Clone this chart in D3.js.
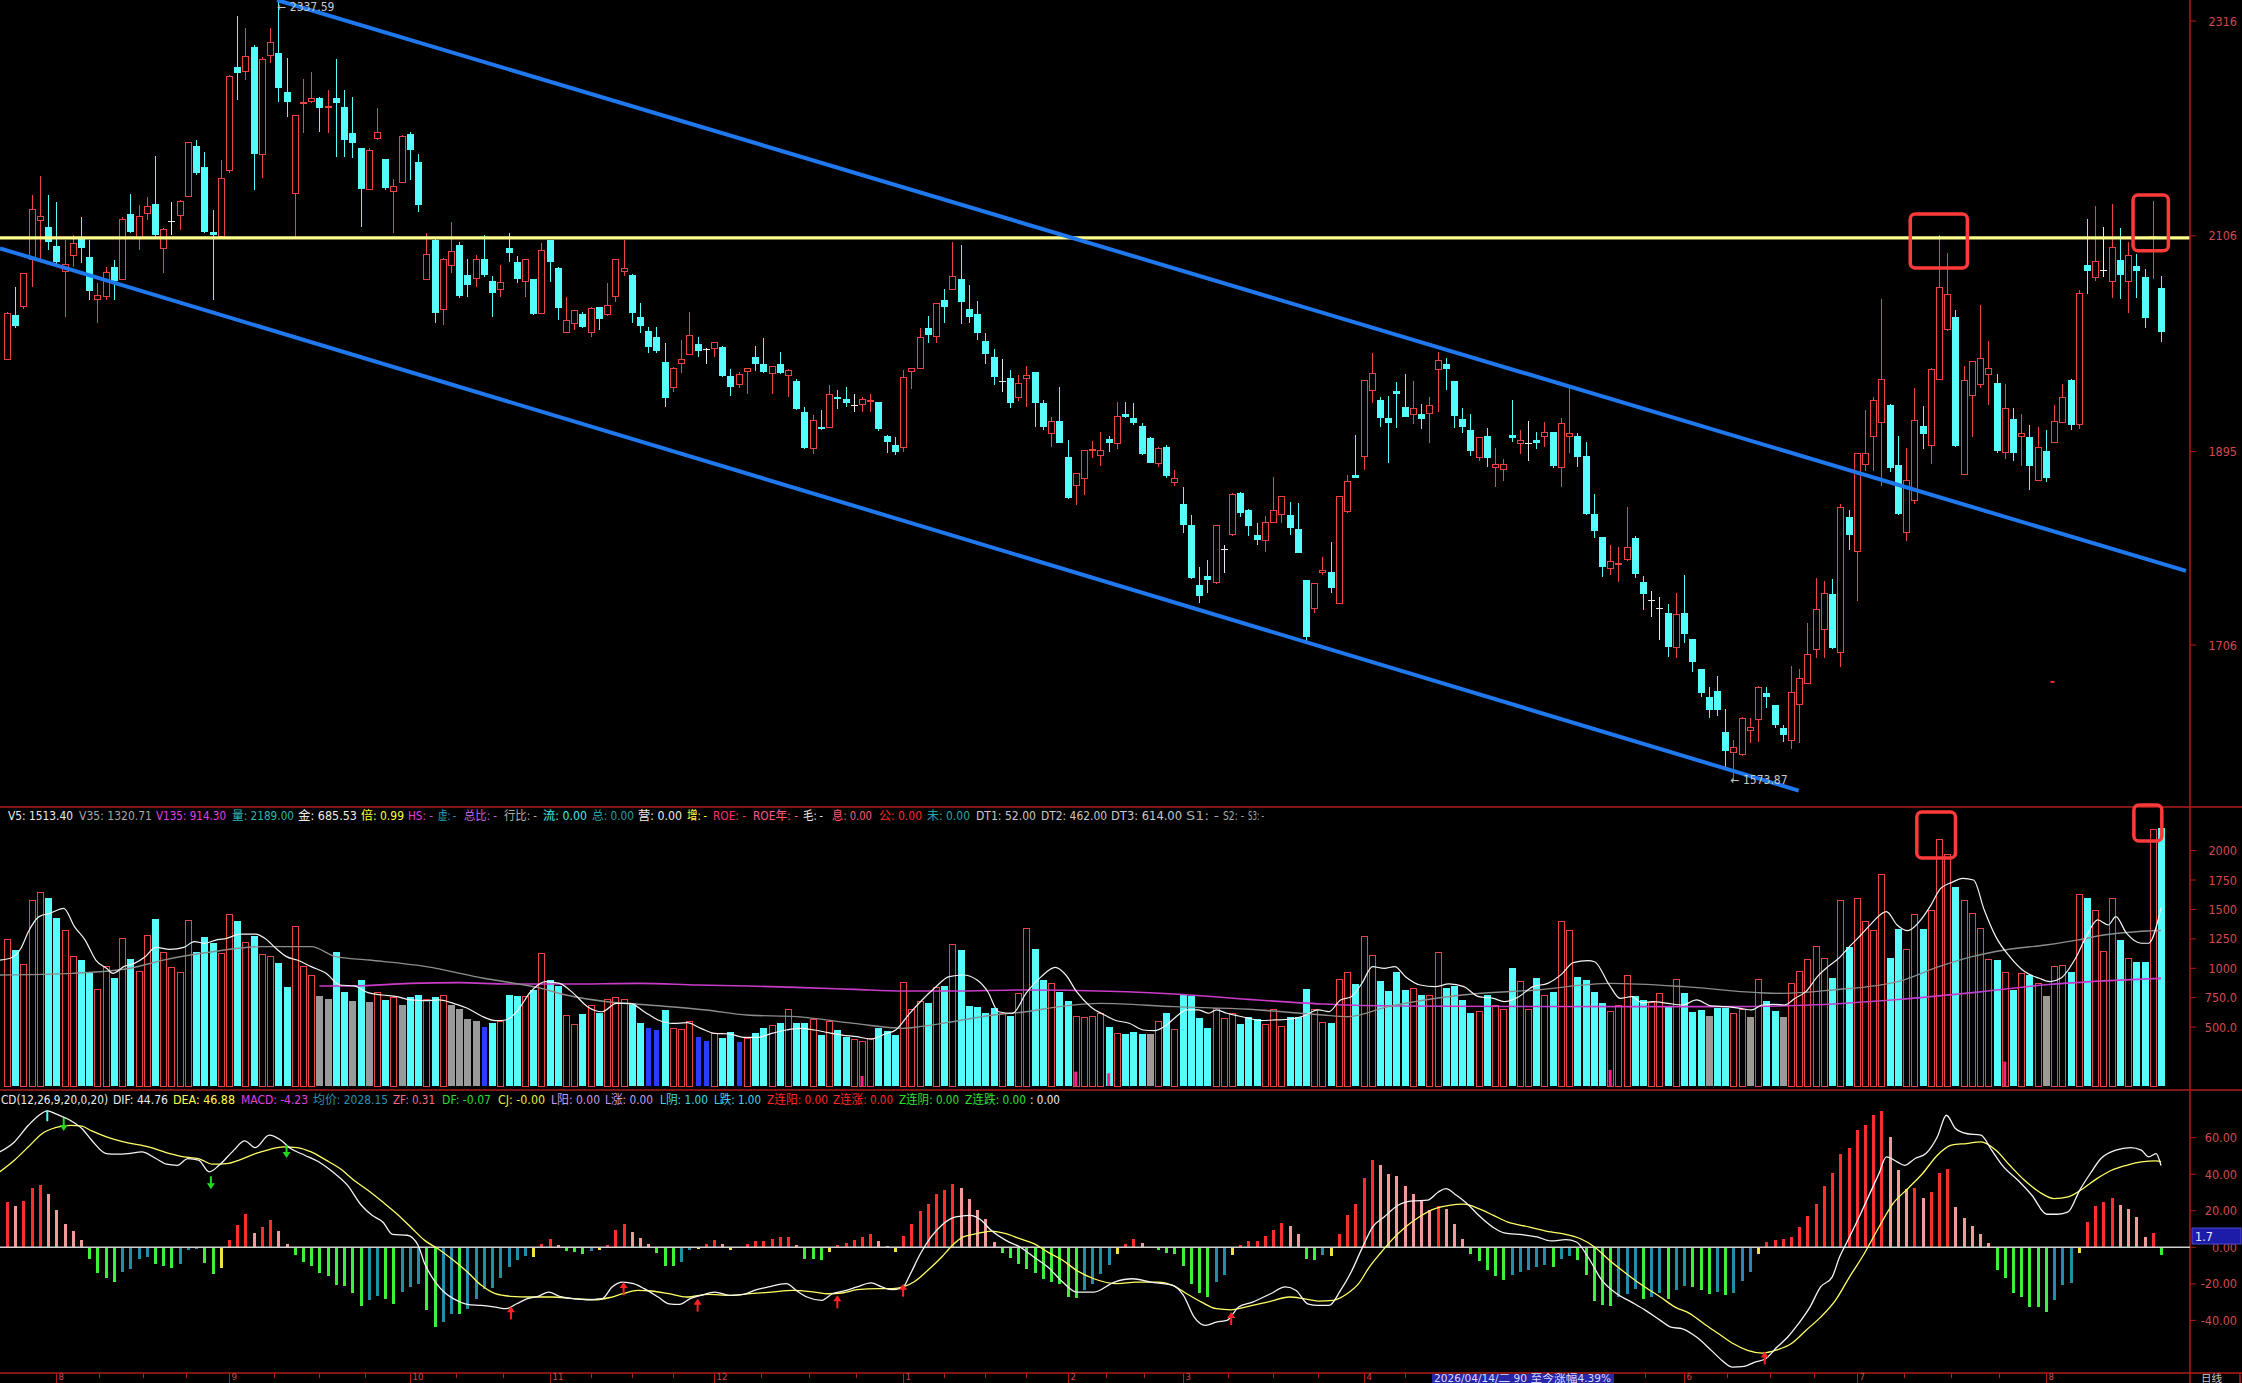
<!DOCTYPE html>
<html><head><meta charset="utf-8">
<script src="https://cdn.jsdelivr.net/npm/d3@7"></script>
<style>
html,body{margin:0;padding:0;background:#000;overflow:hidden}
svg{display:block}
text{font-family:"DejaVu Sans Condensed","Liberation Sans Narrow","Noto Sans CJK SC",sans-serif}
</style></head><body>
<svg id="c" width="2242" height="1383"></svg>
<script>
// ---------------- DATA ----------------
const opens=[1985.3,2028.6,2036.7,2082.4,2120.8,2114.3,2096.0,2071.0,2086.6,2102.6,
2085.6,2043.3,2046.5,2075.8,2063.5,2127.0,2103.5,2128.0,2137.1,2093.8,
2119.8,2126.3,2144.3,2193.8,2172.9,2109.4,2105.2,2170.3,2270.7,2267.1,
2290.9,2185.6,2282.7,2285.0,2246.2,2147.5,2235.2,2237.1,2240.4,2231.3,
2240.4,2232.2,2206.2,2191.5,2151.4,2201.3,2180.8,2149.8,2158.0,2205.5,
2178.5,2063.5,2101.9,2034.1,2076.5,2097.0,2067.7,2064.4,2083.0,2061.8,
2053.7,2093.8,2080.7,2061.8,2063.5,2030.2,2101.9,2074.2,2011.6,2020.4,
2029.6,2011.6,2036.1,2028.6,2046.5,2071.0,2067.7,2026.3,2013.0,2006.8,
1983.0,1957.9,1981.3,1990.1,2000.2,1994.4,1996.0,1997.6,1969.0,1960.2,
1973.2,1987.2,1980.7,1971.6,1980.7,1969.3,1964.1,1934.1,1898.3,1918.8,
1918.5,1948.1,1946.5,1940.0,1941.3,1944.2,1943.2,1910.3,1901.5,1899.2,
1973.2,1976.5,2015.6,2007.4,2043.3,2053.7,2063.5,2034.1,2029.3,2003.2,
1987.2,1963.4,1966.7,1948.1,1966.7,1972.6,1942.3,1913.0,1925.3,1889.5,
1862.4,1868.9,1895.7,1891.1,1907.1,1903.2,1931.5,1927.6,1920.1,1908.1,
1883.6,1899.9,1864.7,1843.9,1823.3,1764.7,1773.5,1767.0,1799.6,1813.6,
1855.0,1838.0,1813.6,1808.0,1825.6,1833.8,1833.1,1819.1,1769.6,1741.9,
1776.7,1777.7,1746.8,1836.4,1871.9,1890.1,1954.6,1945.5,1927.6,1954.3,
1938.4,1930.9,1931.8,1932.5,1975.5,1980.7,1964.1,1927.0,1916.2,1889.5,
1910.3,1879.7,1877.8,1911.3,1903.2,1902.5,1906.4,1909.7,1914.6,1879.7,
1909.7,1910.3,1890.8,1834.1,1811.9,1781.0,1785.3,1789.1,1810.3,1767.9,
1749.4,1741.9,1737.6,1703.8,1737.6,1711.6,1682.3,1654.9,1661.1,1621.3,
1600.8,1598.5,1622.0,1632.7,1658.8,1647.4,1624.6,1612.7,1648.2,1668.1,
1701.3,1721.2,1756.0,1698.8,1830.8,1797.2,1882.5,1910.3,1923.7,1941.1,
1882.1,1816.3,1847.1,1920.1,1900.6,1965.7,2014.1,2026.8,1872.4,1950.1,
1961.0,1970.7,1962.0,1894.1,1926.6,1910.3,1909.2,1866.9,1895.9,1903.8,
1923.7,1964.6,1921.2,2077.4,2065.1,2072.3,2061.1,2082.8,2061.1,2076.7,
2065.8,2103.8,2055.0];
const highs=[2031.8,2055.6,2069.3,2145.9,2164.5,2145.9,2139.4,2101.9,2106.8,2124.1,
2101.9,2059.5,2075.8,2082.4,2124.7,2146.9,2136.1,2144.3,2184.0,2113.3,
2139.4,2141.0,2197.0,2199.7,2188.2,2131.2,2180.1,2263.2,2320.9,2308.8,
2292.5,2281.1,2308.8,2337.59,2279.5,2224.1,2259.3,2266.4,2242.0,2248.5,
2278.5,2248.5,2241.4,2191.5,2191.5,2230.6,2180.8,2161.2,2204.5,2207.8,
2186.0,2108.4,2103.5,2084.0,2119.8,2100.3,2083.0,2087.2,2106.8,2066.7,
2077.5,2109.1,2086.3,2083.0,2063.5,2098.6,2101.9,2075.8,2046.5,2033.5,
2031.8,2036.7,2036.7,2060.2,2083.0,2101.9,2068.7,2040.0,2017.2,2016.5,
2001.5,1978.1,2004.2,2031.2,2007.4,1996.0,2002.5,1998.3,1975.5,1973.2,
1977.1,1998.6,2006.4,1979.1,1992.1,1975.5,1965.7,1938.3,1930.8,1935.7,
1960.2,1955.3,1957.9,1951.4,1948.1,1951.4,1943.9,1911.3,1909.7,1974.8,
1976.5,2015.6,2027.6,2040.7,2053.7,2100.3,2097.0,2057.9,2042.3,2010.7,
1995.0,1985.3,1974.8,1969.9,1978.8,1972.6,1945.5,1929.2,1957.9,1906.4,
1873.8,1896.7,1905.8,1914.6,1910.7,1943.9,1943.3,1942.9,1922.7,1909.7,
1899.9,1901.5,1877.1,1860.8,1833.1,1782.0,1789.1,1823.3,1803.8,1854.3,
1856.0,1838.6,1825.6,1832.1,1869.9,1851.1,1846.1,1844.5,1769.6,1766.3,
1792.4,1807.0,1851.1,1872.2,1911.3,1964.1,1991.1,1948.8,1949.5,1963.4,
1970.9,1964.4,1941.6,1948.8,1992.8,1986.3,1964.1,1937.4,1931.8,1909.7,
1917.8,1898.3,1887.5,1945.5,1916.2,1925.3,1914.6,1924.4,1914.6,1927.6,
1957.0,1912.9,1904.8,1853.6,1811.9,1803.8,1802.2,1841.3,1812.6,1773.5,
1759.2,1753.3,1746.1,1756.5,1774.5,1711.6,1682.3,1665.3,1675.7,1643.1,
1613.2,1635.3,1634.4,1666.0,1664.7,1647.4,1627.8,1685.1,1682.5,1727.7,
1771.1,1768.2,1770.4,1844.2,1838.0,1893.3,1935.6,1948.3,2044.1,1941.8,
1910.3,1898.4,1957.3,1939.3,1977.2,2106.7,2089.3,2033.3,1979.0,1982.7,
2038.7,2003.3,1970.7,1961.0,1937.5,1932.0,1921.2,1919.4,1916.5,1941.1,
1961.0,1966.4,2053.2,2122.6,2135.6,2114.6,2137.1,2113.9,2100.2,2088.6,
2073.1,2140.0,2066.9];
const lows=[1984.6,2015.6,2034.1,2056.3,2082.4,2092.1,2077.5,2027.0,2075.8,2079.1,
2043.3,2020.4,2043.3,2043.3,2062.8,2108.4,2092.1,2121.5,2105.2,2069.3,
2106.8,2111.7,2144.3,2165.4,2108.4,2043.3,2103.5,2167.7,2238.8,2258.3,
2150.8,2162.2,2274.6,2237.1,2222.5,2105.2,2206.2,2235.5,2207.8,2206.8,
2183.4,2182.7,2181.7,2115.0,2150.8,2199.7,2150.8,2109.1,2157.3,2160.6,
2129.6,2062.8,2020.4,2018.8,2070.0,2044.9,2046.5,2055.6,2066.1,2026.3,
2046.5,2080.7,2059.5,2046.5,2028.6,2029.6,2061.2,2023.7,2011.3,2013.9,
2015.6,2007.4,2013.9,2027.9,2041.6,2066.7,2020.4,2010.7,1991.1,1991.1,
1939.0,1953.6,1971.6,1989.5,1987.2,1980.7,1987.9,1968.3,1949.7,1956.9,
1951.0,1974.2,1972.2,1951.0,1970.6,1948.8,1935.7,1897.3,1892.7,1916.2,
1917.8,1936.4,1938.3,1934.1,1934.1,1934.1,1915.5,1893.4,1891.7,1895.0,
1956.0,1975.5,2000.9,2000.9,2020.5,2053.0,2019.5,2020.5,2004.2,1980.7,
1960.2,1953.7,1937.4,1944.9,1938.4,1919.5,1916.2,1899.3,1903.2,1848.4,
1842.9,1852.7,1888.5,1881.0,1895.0,1897.3,1927.6,1921.1,1891.8,1883.6,
1880.4,1868.9,1861.5,1815.8,1770.2,1747.4,1756.6,1765.7,1776.1,1812.6,
1831.5,1812.6,1803.8,1797.3,1825.0,1825.6,1813.6,1795.7,1707.7,1737.6,
1774.5,1757.2,1746.1,1835.4,1869.0,1877.1,1942.9,1919.5,1884.3,1917.8,
1928.6,1922.1,1917.2,1903.2,1934.1,1955.3,1917.8,1913.6,1890.8,1886.2,
1880.4,1860.8,1866.4,1904.8,1892.7,1886.2,1897.3,1899.9,1878.7,1860.8,
1894.0,1879.7,1833.1,1810.3,1772.2,1774.5,1767.9,1788.5,1771.2,1740.2,
1733.1,1710.9,1694.0,1693.0,1708.3,1680.0,1655.5,1634.4,1636.6,1584.5,
1573.87,1597.5,1610.6,1611.6,1644.1,1624.6,1611.6,1604.1,1610.2,1668.1,
1693.4,1693.4,1702.4,1684.4,1799.3,1748.7,1876.0,1876.0,1861.5,1875.3,
1833.3,1808.0,1843.4,1897.7,1883.2,1965.7,2013.4,1899.5,1872.4,1909.2,
1957.3,1941.1,1893.3,1887.6,1886.1,1881.4,1857.2,1866.9,1865.1,1903.1,
1923.0,1915.8,1917.6,2048.8,2062.2,2065.8,2045.2,2044.1,2030.7,2045.2,
2016.3,2064.0,2002.5];
const closes=[2030.2,2017.8,2069.3,2131.9,2124.7,2100.3,2080.7,2078.1,2098.6,2094.4,
2052.4,2048.1,2070.0,2061.8,2121.5,2110.1,2124.7,2134.5,2106.8,2112.3,
2119.8,2139.4,2197.0,2167.7,2110.1,2106.8,2162.2,2261.6,2264.8,2281.1,
2185.6,2277.9,2294.8,2250.2,2236.5,2223.4,2236.8,2240.4,2230.6,2232.2,
2236.1,2199.7,2197.0,2151.4,2189.2,2207.2,2152.4,2154.7,2202.9,2189.9,
2136.1,2087.9,2030.2,2083.0,2090.5,2047.2,2057.9,2083.0,2067.7,2050.4,
2060.2,2089.5,2063.8,2083.0,2029.2,2091.5,2080.7,2035.1,2023.0,2032.8,
2017.2,2035.1,2024.4,2037.7,2082.4,2074.2,2030.9,2018.2,1997.6,1993.7,
1947.1,1976.5,1985.3,2008.1,1993.7,1994.4,2001.5,1969.0,1957.9,1970.6,
1976.5,1980.4,1973.2,1978.1,1971.6,1974.8,1936.4,1898.3,1925.9,1916.8,
1950.4,1946.2,1942.2,1940.0,1946.2,1944.9,1916.8,1904.1,1895.0,1967.7,
1976.5,2006.8,2009.1,2039.4,2036.8,2066.7,2041.6,2026.3,2010.7,1990.2,
1967.7,1963.4,1942.9,1961.8,1969.0,1942.9,1919.5,1924.4,1903.8,1850.1,
1873.8,1895.7,1897.6,1896.0,1903.8,1929.2,1928.6,1922.7,1892.7,1884.3,
1898.3,1871.2,1868.9,1823.3,1771.2,1754.3,1769.6,1822.4,1799.6,1853.3,
1835.4,1822.4,1808.7,1825.6,1837.0,1851.1,1820.1,1796.3,1714.2,1766.3,
1779.3,1761.4,1851.1,1865.7,1869.0,1964.1,1971.6,1928.3,1922.7,1951.1,
1929.2,1937.4,1926.9,1940.0,1984.6,1975.5,1929.9,1919.5,1896.0,1909.0,
1889.1,1882.6,1882.0,1908.0,1906.4,1902.5,1903.2,1914.0,1881.0,1922.7,
1913.0,1889.5,1833.8,1817.8,1782.0,1788.1,1785.5,1801.5,1775.4,1755.6,
1749.4,1741.9,1703.8,1735.4,1716.8,1689.7,1659.4,1642.5,1642.5,1602.8,
1606.0,1634.4,1625.6,1664.7,1655.5,1627.8,1618.1,1659.8,1673.5,1697.0,
1740.4,1756.7,1703.5,1840.5,1813.4,1893.3,1893.3,1945.4,1965.7,1878.9,
1834.4,1866.9,1925.9,1912.1,1975.4,2055.0,2048.8,1900.6,1964.6,1982.7,
1986.3,1976.5,1895.9,1937.5,1893.3,1912.9,1881.4,1899.5,1868.8,1924.8,
1947.6,1921.2,2049.6,2072.0,2081.0,2072.3,2094.8,2067.6,2086.4,2072.0,
2026.0,2105.6,2011.6];
const volumes=[1246,1155,1034,1580,1645,1597,1430,1322,1104,1070,
957,816,1019,917,1254,1079,977,1280,1419,1138,
1008,966,1410,1138,1266,1215,1124,1461,1402,1215,
1274,1119,1102,1045,841,1359,1019,940,765,736,
1136,799,722,900,714,796,731,756,688,759,
773,731,759,770,685,654,566,555,504,538,
549,773,765,759,816,1127,900,850,595,524,
612,688,617,731,748,736,708,538,493,476,
646,490,481,552,419,382,447,411,456,377,
405,447,490,512,532,646,532,538,561,433,
546,476,419,391,377,405,490,470,433,881,
651,716,702,835,850,1204,1155,680,674,623,
660,617,597,787,1334,1164,900,872,796,722,
589,583,589,620,504,442,442,462,442,442,
552,618,476,773,765,575,490,660,575,618,
527,589,567,524,652,504,589,584,821,652,
541,533,901,966,867,1274,1105,892,807,971,
816,830,773,765,1136,830,850,731,618,632,
773,688,646,1000,887,646,915,773,802,1396,
1325,929,901,802,702,632,688,943,765,731,
708,787,674,901,793,632,646,595,660,660,
618,654,589,906,722,637,589,867,971,1071,
1184,1085,920,1580,1184,1595,1396,1325,1793,1085,
1334,1156,1453,1334,1487,2096,1963,1688,1572,1467,
1340,1071,1071,963,816,957,943,872,765,1014,
1028,966,1628,1595,1487,1141,1595,1241,1085,1056,
1056,2181,2189];
// volume bars shown in grey / blue in the reference
const volGreyIdx=[38,39,42,44,48,54,55,56,57,139,207,212,216,248];
const volBlueIdx=[58,78,79,84,85,89];
// small magenta bars at the bottom of the volume panel
const volMarkIdx=[104,130,134,195,243];
const volMarkVal=[85,122,108,136,207];
// volume moving averages, [bar index, value]
const v5Line=[[-0.85,1070],[0.4,1085],[1.7,1170],[2.6,1311],[3.9,1439],[5.2,1467],[6.9,1509],[8.2,1354],[9.5,1240],[10.8,1070],[12.1,1000],[12.9,957],[14.2,1014],[15.5,1042],[16.8,1099],[18.1,1178],[19.8,1161],[21.5,1178],[22.8,1226],[24.1,1212],[25.4,1240],[26.7,1254],[28.4,1291],[30.2,1291],[31.4,1254],[32.7,1170],[34.0,1099],[35.3,1070],[37.0,1014],[38.8,957],[40.5,858],[42.2,850],[43.9,793],[45.7,773],[47.4,759],[49.1,731],[50.8,725],[52.5,731],[54.3,702],[56.0,660],[57.7,595],[59.4,555],[60.7,561],[62.0,631],[63.7,801],[65.5,886],[67.2,872],[68.9,787],[70.6,674],[72.4,631],[74.1,702],[75.8,702],[77.5,631],[79.2,561],[81.0,532],[82.7,538],[84.4,490],[86.1,447],[87.9,442],[89.6,413],[91.3,413],[93.0,447],[94.8,476],[96.5,490],[98.2,476],[99.9,453],[101.6,433],[103.4,419],[105.1,399],[106.8,442],[108.1,476],[109.8,617],[111.1,716],[112.8,830],[114.6,929],[116.3,943],[118.0,900],[119.3,801],[120.6,631],[122.3,617],[124.0,793],[125.8,929],[127.5,1008],[128.8,943],[130.1,801],[131.8,674],[133.5,603],[134.7,561],[136.5,533],[138.2,476],[139.6,470],[140.9,510],[142.2,589],[143.5,646],[144.9,646],[146.2,618],[147.1,646],[148.4,618],[149.8,595],[151.1,575],[152.4,555],[154.2,561],[156.0,567],[157.7,595],[159.5,646],[160.8,632],[162.2,731],[163.5,759],[164.8,872],[166.1,1014],[167.5,1000],[168.8,1014],[170.1,929],[171.9,858],[173.7,844],[175.4,867],[177.2,844],[179.0,759],[180.8,745],[182.1,717],[183.9,759],[185.6,844],[187.4,872],[189.2,957],[190.5,1048],[192.3,1065],[193.1,1056],[194.9,858],[196.2,745],[197.6,759],[198.9,708],[200.2,717],[202.0,702],[203.8,688],[205.5,731],[207.3,680],[209.1,674],[210.8,660],[212.2,646],[213.5,688],[214.9,694],[216.2,688],[217.5,745],[218.8,802],[220.2,929],[221.5,1014],[222.8,1085],[224.1,1184],[225.5,1283],[226.8,1382],[228.6,1481],[229.9,1368],[231.2,1320],[232.6,1396],[233.9,1524],[235.2,1679],[236.5,1728],[237.9,1764],[239.2,1750],[240.5,1495],[241.9,1269],[243.6,1099],[245.4,972],[247.2,915],[248.5,887],[249.8,915],[251.6,1085],[252.9,1269],[254.3,1411],[255.6,1368],[256.5,1439],[257.8,1298],[259.6,1213],[260.5,1213],[262,1513.4]];
const v35Line=[[-0.85,943],[8,957],[15,1000],[19,1070],[25,1141],[31,1184],[37,1184],[40,1099],[44,1070],[51,1014],[58,915],[65,830],[68,773],[73,716],[78,688],[85,646],[90,603],[96,589],[103,532],[109,490],[111,504],[115,546],[120,603],[124,631],[128,674],[133,702],[142,674],[151,652],[160,603],[163,589],[168,674],[177,773],[186,816],[195,872],[204,844],[213,793],[216,787],[222,816],[230,887],[235,1014],[239,1099],[243,1156],[248,1198],[252,1241],[255,1283],[259,1311],[262,1320.71]];
const v135Line=[[38,850],[42,850],[49,872],[55,878],[61,866],[68,866],[77,872],[84,858],[90,850],[96,838],[103,821],[109,807],[115,807],[124,816],[134,805],[142,782],[151,736],[160,697],[163,688],[170,680],[185,676],[200,674],[212,676],[220,690],[230,735],[240,800],[248,860],[262,914.3]];
// MACD histogram (one value per bar)
const macd=[24.8,22.5,25.2,32.7,34.0,29.0,20.3,12.6,8.9,3.8,
-6.2,-14.1,-16.6,-19.0,-13.5,-11.7,-6.2,-5.3,-9.3,-10.4,
-11.1,-9.3,-1.3,-0.9,-8.6,-14.4,-11.1,3.8,12.1,18.1,
7.9,11.1,14.8,8.9,2.0,-4.4,-8.0,-10.4,-14.1,-15.9,
-20.8,-21.4,-25.0,-32.3,-29.0,-26.8,-28.1,-31.2,-24.5,-21.7,
-19.9,-34.5,-43.7,-40.9,-36.7,-36.7,-33.6,-28.1,-22.6,-22.1,
-16.6,-10.8,-6.8,-4.9,-5.3,1.6,4.7,1.1,-2.0,-2.6,
-3.8,-2.0,-1.3,1.1,9.3,13.0,8.4,5.3,1.6,-3.1,
-10.4,-10.4,-8.0,-1.6,-0.7,1.6,3.8,1.6,-1.3,0.2,
1.6,3.5,3.5,4.7,5.7,5.7,1.1,-6.2,-6.2,-6.8,
-2.6,1.1,2.4,3.8,5.7,7.1,3.5,0.5,-2.6,6.0,
13.0,19.9,23.9,29.0,31.6,34.9,32.7,26.7,20.6,15.7,
2.9,-3.1,-5.7,-8.9,-11.7,-14.1,-17.2,-19.0,-20.3,-27.2,
-27.6,-23.2,-19.9,-14.6,-9.9,-3.5,1.6,4.4,2.4,0.3,
-1.5,-3.1,-3.8,-10.4,-20.3,-25.0,-27.2,-19.0,-15.3,-4.4,
1.1,3.5,3.5,6.0,9.3,13.5,11.5,7.5,-6.2,-6.8,
-4.4,-4.9,7.5,17.5,23.6,38.2,47.7,44.9,40.4,38.9,
33.4,29.4,25.8,20.3,22.5,21.2,12.6,4.7,-3.8,-7.5,
-12.2,-15.9,-18.1,-15.3,-13.5,-12.2,-10.8,-9.9,-10.8,-6.2,
-4.9,-7.1,-15.3,-29.4,-31.8,-32.3,-27.2,-25.8,-22.6,-28.1,
-27.2,-25.0,-28.1,-23.6,-21.4,-21.7,-23.6,-25.8,-24.5,-26.3,
-25.0,-18.4,-13.5,-3.5,2.9,4.2,4.6,5.7,11.1,17.0,
23.9,33.6,40.7,51.3,54.1,64.1,67.2,72.3,74.7,60.5,
42.2,32.1,32.7,27.2,30.3,40.7,42.6,22.1,16.1,11.5,
7.5,2.4,-12.6,-16.6,-25.0,-27.2,-32.7,-32.7,-35.4,-29.0,
-20.8,-19.5,-3.0,13.9,22.5,24.8,27.2,23.0,21.2,16.6,
5.7,7.9,-4.23];
// DIF / DEA lines, [bar index, value]
const difLine=[[-0.9,52.2],[0.9,57.7],[2.6,66.8],[3.9,72.3],[4.9,74.7],[6.0,72.9],[7.8,69.2],[9.1,65.0],[10.3,58.6],[12.1,51.3],[13.4,51.0],[14.7,51.3],[16.4,52.2],[18.1,48.6],[19.4,45.5],[20.7,44.9],[22.0,48.6],[23.3,47.7],[24.6,41.3],[25.8,44.9],[27.6,53.2],[28.9,58.3],[30.2,54.6],[31.9,61.4],[33.2,59.0],[34.5,54.1],[36.2,50.4],[37.9,46.8],[39.6,41.3],[41.4,34.0],[43.1,23.0],[44.4,17.5],[45.7,13.9],[46.9,7.1],[48.7,6.6],[50.0,1.1],[50.8,-8.9],[52.1,-19.0],[53.4,-25.4],[54.7,-29.0],[56.0,-31.2],[57.7,-31.8],[59.4,-32.7],[60.7,-33.6],[62.0,-30.9],[63.3,-28.1],[64.6,-26.8],[65.9,-24.5],[67.2,-26.8],[68.9,-28.1],[70.6,-28.7],[72.4,-28.1],[73.6,-21.7],[74.9,-19.0],[76.2,-19.9],[77.5,-22.6],[79.2,-27.2],[80.5,-30.9],[81.8,-31.2],[83.1,-28.1],[84.4,-26.3],[86.1,-24.5],[87.9,-26.3],[89.6,-25.8],[90.9,-23.6],[92.6,-21.7],[94.8,-19.9],[96.0,-23.6],[97.3,-27.2],[99.1,-29.0],[100.4,-25.4],[102.1,-23.6],[103.4,-21.7],[105.1,-19.5],[106.4,-21.7],[107.7,-23.2],[109.0,-21.7],[109.8,-15.3],[111.1,-3.5],[112.4,5.7],[113.7,12.1],[115.4,16.6],[117.1,17.5],[118.4,15.2],[119.7,9.3],[121.5,3.8],[123.2,0.2],[124.9,-5.3],[126.6,-10.8],[128.4,-19.0],[130.1,-24.5],[132.2,-24.5],[134.7,-19.0],[136.9,-17.2],[139.1,-19.0],[141.8,-20.8],[143.1,-26.3],[144.4,-38.2],[145.8,-42.7],[147.1,-40.9],[148.4,-40.0],[149.8,-32.7],[151.5,-30.0],[153.7,-25.4],[155.5,-21.7],[156.8,-23.6],[158.2,-30.9],[159.5,-31.8],[160.8,-31.8],[162.2,-23.6],[163.5,-13.5],[164.8,-0.7],[166.1,11.1],[167.5,16.6],[169.2,23.0],[171.0,25.4],[172.8,25.8],[174.1,30.3],[175.0,32.1],[176.3,28.5],[177.6,23.9],[179.0,17.5],[180.8,10.8],[182.1,7.9],[184.3,6.9],[186.1,5.7],[187.8,3.5],[189.6,4.2],[190.9,2.9],[192.3,-5.3],[194.0,-18.1],[195.8,-25.4],[197.6,-30.0],[199.3,-34.5],[201.1,-40.0],[202.4,-43.7],[203.8,-44.6],[205.5,-49.1],[207.3,-56.4],[208.6,-61.9],[209.9,-65.6],[211.3,-65.2],[212.6,-62.8],[213.9,-61.0],[215.3,-54.6],[216.6,-49.1],[217.9,-41.8],[219.3,-32.7],[220.6,-21.7],[222.0,-16.3],[222.9,-5.3],[223.7,2.0],[225.1,14.8],[226.4,27.6],[227.7,40.4],[228.6,49.5],[229.9,46.8],[230.8,44.9],[232.1,48.6],[233.4,51.3],[234.8,60.5],[235.9,72.3],[237.0,65.0],[238.3,62.3],[240.1,61.4],[241.4,53.2],[242.7,44.9],[244.6,36.7],[246.3,28.5],[248.1,18.1],[249.4,18.1],[250.7,19.4],[252.1,31.2],[253.4,40.4],[254.7,48.6],[256.5,53.2],[258.3,54.6],[259.6,53.2],[260.5,49.5],[261.4,51.3],[262,44.76]];
const deaLine=[[-0.9,41.3],[0.9,47.7],[2.6,55.0],[4.3,62.3],[6.0,65.6],[7.8,66.8],[9.1,66.3],[10.3,63.7],[12.1,60.5],[14.7,57.2],[17.2,55.0],[19.8,51.3],[21.5,49.5],[23.3,48.6],[25.0,45.5],[26.7,45.8],[28.4,48.0],[30.2,51.3],[31.9,53.5],[33.6,55.0],[35.3,54.6],[37.0,52.2],[38.8,47.7],[40.5,43.1],[42.2,36.7],[43.9,31.2],[45.7,24.8],[47.4,18.4],[49.1,11.1],[50.8,3.8],[52.6,-1.3],[54.3,-7.1],[56.0,-13.5],[57.7,-20.8],[59.4,-25.4],[61.2,-26.8],[63.7,-27.2],[66.3,-27.2],[68.9,-28.1],[71.5,-28.7],[73.2,-27.6],[74.9,-25.4],[76.7,-23.6],[78.4,-23.9],[80.5,-25.4],[82.7,-27.2],[85.3,-25.8],[87.9,-26.3],[90.4,-25.4],[93.0,-24.5],[95.6,-23.6],[98.2,-24.5],[99.9,-25.4],[101.6,-25.0],[103.4,-23.2],[106.0,-22.6],[107.7,-22.6],[109.0,-21.7],[110.3,-19.0],[112.0,-12.6],[113.7,-5.3],[115.0,1.1],[116.3,5.7],[118.0,7.5],[119.7,8.9],[121.5,7.5],[123.2,4.7],[124.9,2.0],[126.6,-2.6],[128.4,-7.1],[130.1,-12.6],[132.2,-17.2],[135.1,-19.9],[137.3,-19.0],[140.0,-19.0],[141.8,-20.8],[143.5,-25.4],[145.3,-30.0],[147.1,-33.6],[148.9,-34.2],[150.6,-32.7],[153.3,-30.0],[156.0,-27.2],[157.7,-28.1],[159.5,-29.4],[161.3,-29.0],[163.0,-25.4],[164.4,-19.9],[165.7,-10.8],[167.0,-3.5],[168.4,3.8],[170.1,11.1],[171.9,17.0],[173.7,21.2],[175.4,23.0],[177.2,23.6],[179.0,21.2],[180.8,17.5],[182.5,13.9],[185.2,11.1],[187.8,8.4],[189.6,7.1],[191.4,4.7],[193.1,0.2],[194.9,-7.1],[196.7,-13.5],[198.9,-20.8],[201.1,-27.2],[202.9,-32.7],[204.7,-36.3],[206.4,-41.8],[208.2,-47.3],[210.0,-52.8],[211.7,-56.4],[213.5,-57.9],[215.3,-56.1],[217.0,-52.8],[218.8,-45.5],[220.6,-38.2],[222.4,-29.0],[224.1,-16.3],[225.9,-3.5],[227.7,11.1],[229.4,23.9],[231.2,32.1],[233.0,40.4],[234.8,50.4],[236.5,55.9],[238.3,56.8],[240.1,57.7],[241.9,53.2],[243.6,44.9],[245.4,36.7],[247.2,30.3],[249.0,26.7],[250.7,27.6],[252.5,32.1],[254.2,37.6],[256.0,42.2],[257.8,44.9],[259.6,46.8],[261.4,47.3],[262,46.88]];
// cross signals on the MACD panel, [bar index, value at arrow tip]
const sigDown=[[6.9,63.7],[24.8,31.8],[34.0,48.9]];
const sigUp=[[61.3,-32.3],[75.0,-19.0],[84.0,-28.1],[101.0,-26.3],[109.0,-19.9],[148.9,-35.4],[213.8,-57.0]];
// drawn annotations: trend channel (bar index, price), level line, highlight boxes
const channelUpper=[[32.84,2336.5],[265.04,1778.4]];
const channelLower=[[-0.85,2093.8],[217.93,1563.6]];
const levelPrice=2104;
const priceBoxes=[[231.5,238.45,2127.3,2074.6],[258.6,262.9,2146.0,2091.5]];
const volBoxes=[[232.3,237.0,2328,1937],[258.7,262.1,2387,2082]];
const hiMark={i:33,p:2337.59,t:"2337.59"}, loMark={i:210,p:1573.87,t:"1573.87"};
// axis ticks / labels
const priceTicks=[2316,2106,1895,1706];
const volTicks=[2000,1750,1500,1250,1000,750,500];
const volTickLbl=["2000","1750","1500","1250","1000","750.0","500.0"];
const macdTicks=[60,40,20,0,-20,-40];
const macdTickLbl=["60.00","40.00","20.00","0.00","-20.00","-40.00"];
const monthIdx=[6,27,49,66,86,109,129,143,165,185,204,225,248];
const monthLbl=["8","9","10","11","12","1","2","3","4","","6","7","8"]; // "5" is hidden under the date box

// ---------------- DRAWING ----------------
const W=2242,H=1383,AX=2190;
const RED="#ec4444",CYAN="#54fcfc",AXC="#b01c1c",LBL="#d24a4a";
const N=closes.length;
const x=d3.scaleLinear().domain([0,N-1]).range([7,2161]);
const yP=d3.scaleLinear().domain([1706,2316]).range([645,21]);
const yV=d3.scaleLinear().domain([0,2000]).range([1086,850.6]);
const yM=d3.scaleLinear().domain([-40,60]).range([1320.4,1137.7]);

const svg=d3.select("#c");
svg.append("rect").attr("width",W).attr("height",H).attr("fill","#000");
const defs=svg.append("defs");
function clip(id,x0,y0,w,h){defs.append("clipPath").attr("id",id).append("rect").attr("x",x0).attr("y",y0).attr("width",w).attr("height",h);}
clip("cpP",0,0,AX,806);clip("cpV",0,808,AX,280);clip("cpM",0,1091,AX,281);

// ---- price panel ----
const gP=svg.append("g").attr("clip-path","url(#cpP)");
const gc=gP.append("g").attr("shape-rendering","crispEdges");
closes.forEach((c,i)=>{
  const o=opens[i],h=highs[i],l=lows[i];
  const cx=Math.round(x(i))+0.5;
  const yT=yP(Math.max(o,c)),yB=yP(Math.min(o,c));
  if(c>o){
    gc.append("line").attr("x1",cx).attr("x2",cx).attr("y1",yP(h)).attr("y2",yT).attr("stroke",RED);
    gc.append("line").attr("x1",cx).attr("x2",cx).attr("y1",yB).attr("y2",yP(l)).attr("stroke",RED);
    gc.append("rect").attr("x",cx-3).attr("y",yT).attr("width",6).attr("height",Math.max(yB-yT,1)).attr("fill","#000").attr("stroke",RED);
  }else if(c===o){
    gc.append("line").attr("x1",cx).attr("x2",cx).attr("y1",yP(h)).attr("y2",yP(l)).attr("stroke","#e8e8e8");
    gc.append("line").attr("x1",cx-3.5).attr("x2",cx+3.5).attr("y1",yT).attr("y2",yT).attr("stroke","#e8e8e8");
  }else{
    gc.append("line").attr("x1",cx).attr("x2",cx).attr("y1",yP(h)).attr("y2",yP(l)).attr("stroke",CYAN);
    gc.append("rect").attr("x",cx-3.5).attr("y",yT).attr("width",7).attr("height",Math.max(yB-yT,1.5)).attr("fill",CYAN);
  }
});
// level line
gP.append("line").attr("x1",0).attr("x2",AX).attr("y1",yP(levelPrice)).attr("y2",yP(levelPrice)).attr("stroke","#fffd8c").attr("stroke-width",3.2);
// trend channel
const lp=d3.line().x(d=>x(d[0])).y(d=>yP(d[1]));
[channelUpper,channelLower].forEach(s=>gP.append("path").attr("d",lp(s)).attr("stroke","#1f78ee").attr("stroke-width",4).attr("fill","none"));
// highlight boxes
priceBoxes.forEach(b=>svg.append("rect").attr("x",x(b[0])).attr("y",yP(b[2])).attr("width",x(b[1])-x(b[0])).attr("height",yP(b[3])-yP(b[2])).attr("rx",5).attr("fill","none").attr("stroke","#ff3a3a").attr("stroke-width",3.5));
// high / low marks
gP.append("text").attr("x",x(hiMark.i)-1).attr("y",yP(hiMark.p)+12).attr("fill","#c8c8c8").attr("font-size",12).text("\u2190 "+hiMark.t);
gP.append("text").attr("x",x(loMark.i)-3).attr("y",yP(loMark.p)+4).attr("fill","#c8c8c8").attr("font-size",12).text("\u2190 "+loMark.t);
gP.append("rect").attr("x",x(248.8)-2).attr("y",yP(1669.9)-1).attr("width",4).attr("height",2).attr("fill","#e03030");

// ---- panel separators / axes ----
function hline(y,x1,x2,col,w){svg.append("line").attr("x1",x1).attr("x2",x2).attr("y1",y).attr("y2",y).attr("stroke",col).attr("stroke-width",w||1.5);}
hline(807,0,W,AXC,1.5);hline(1090,0,W,AXC,1.5);hline(1373,0,W,AXC,1.5);
svg.append("line").attr("x1",AX).attr("x2",AX).attr("y1",0).attr("y2",H).attr("stroke",AXC).attr("stroke-width",1.5);
svg.append("line").attr("x1",2240).attr("x2",2240).attr("y1",1373).attr("y2",H).attr("stroke",AXC).attr("stroke-width",1.5);
function axisLabels(vals,lbls,sc){
  vals.forEach((v,k)=>{
    svg.append("line").attr("x1",AX).attr("x2",AX+6).attr("y1",sc(v)).attr("y2",sc(v)).attr("stroke",AXC);
    svg.append("text").attr("x",2237).attr("y",sc(v)+4.5).attr("text-anchor","end").attr("fill",LBL).attr("font-size",12.5).text(lbls[k]);
  });
}
axisLabels(priceTicks,priceTicks.map(String),yP);
axisLabels(volTicks,volTickLbl,yV);
axisLabels(macdTicks,macdTickLbl,yM);

// ---- volume panel ----
const gV=svg.append("g").attr("clip-path","url(#cpV)");
const gvb=gV.append("g").attr("shape-rendering","crispEdges");
volumes.forEach((v,i)=>{
  const cx=Math.round(x(i))+0.5;
  const up=closes[i]>=opens[i];
  const grey=volGreyIdx.includes(i),blue=volBlueIdx.includes(i);
  const y0=yV(0),y1=yV(v);
  if(blue){
    gvb.append("rect").attr("x",cx-2.5).attr("y",y1).attr("width",5).attr("height",y0-y1).attr("fill","#2a3cff");
  }else if(grey){
    gvb.append("rect").attr("x",cx-3.5).attr("y",y1).attr("width",7).attr("height",y0-y1).attr("fill","#9a9a9a");
  }else if(up){
    gvb.append("rect").attr("x",cx-3).attr("y",y1).attr("width",6).attr("height",y0-y1).attr("fill","#000").attr("stroke",RED);
  }else{
    gvb.append("rect").attr("x",cx-3.5).attr("y",y1).attr("width",7).attr("height",y0-y1).attr("fill",CYAN);
  }
});
const lv=d3.line().x(d=>x(d[0])).y(d=>yV(d[1])).curve(d3.curveMonotoneX);
gV.append("path").attr("d",lv(v135Line)).attr("stroke","#c83cc8").attr("stroke-width",1.6).attr("fill","none");
gV.append("path").attr("d",lv(v35Line)).attr("stroke","#8c8c8c").attr("stroke-width",1.4).attr("fill","none");
gV.append("path").attr("d",lv(v5Line)).attr("stroke","#f4f4f4").attr("stroke-width",1.2).attr("fill","none");
volMarkIdx.forEach((k,j)=>gV.append("rect").attr("x",x(k)-1.5).attr("y",yV(volMarkVal[j])).attr("width",3).attr("height",yV(0)-yV(volMarkVal[j])).attr("fill","#ff1f8a"));
volBoxes.forEach(b=>svg.append("rect").attr("x",x(b[0])).attr("y",yV(b[2])).attr("width",x(b[1])-x(b[0])).attr("height",yV(b[3])-yV(b[2])).attr("rx",5).attr("fill","none").attr("stroke","#ff3a3a").attr("stroke-width",3.5));

// header helper
function segs(list,y,fs){
  const g=svg.append("g");
  list.forEach(s=>g.append("text").attr("x",s[2]).attr("y",y).attr("fill",s[1]).attr("font-size",fs)
    .attr("textLength",s[3]-s[2]).attr("lengthAdjust","spacingAndGlyphs").text(s[0]));
}
segs([["V5: 1513.40","#ececec",8,73],["V35: 1320.71","#a8a8a8",79,152],["V135: 914.30","#e040e0",156,226],
["量: 2189.00","#30b4b4",232,294],["金: 685.53","#ececec",298,357],["倍: 0.99","#ffff40",361,404],
["HS: -","#e040e0",408,433],["虚: -","#2aa0c8",438,456],["总比: -","#c060e0",464,497],["行比: -","#b0b0b0",504,537],
["流: 0.00","#40e8e8",543,587],["总: 0.00","#20a0a0",592,634],["营: 0.00","#ececec",638,682],["增: -","#ffff40",687,707],
["ROE: -","#ff3070",713,746],["ROE年: -","#ff5a8a",753,798],["毛: -","#ececec",803,823],["息: 0.00","#ff5a7a",832,872],
["公: 0.00","#ff2828",879,922],["未: 0.00","#20a8a8",927,970],["DT1: 52.00","#c8c8c8",976,1036],["DT2: 462.00","#c8c8c8",1041,1107],
["DT3: 614.00","#c8c8c8",1111,1182],["S1: -","#a8a8a8",1186,1219],["S2: -","#a8a8a8",1223,1244],["S3: -","#a8a8a8",1248,1264]],819.5,12.5);

// ---- MACD panel ----
const gM=svg.append("g").attr("clip-path","url(#cpM)");
const gmb=gM.append("g").attr("shape-rendering","crispEdges");
macd.forEach((m,i)=>{
  const prev=i>0?macd[i-1]:m, next=i<N-1?macd[i+1]:m;
  let col;
  if(m<0&&next>0) col="#f0e040";
  else if(m>=0) col=(m>=prev)?"#ff2e2e":"#f29a9a";
  else col=(m<=prev)?"#3cf03c":"#1f8fa8";
  const y0=yM(0),y1=yM(m);
  gmb.append("rect").attr("x",Math.round(x(i))-1).attr("y",Math.min(y0,y1)).attr("width",3).attr("height",Math.max(Math.abs(y1-y0),1)).attr("fill",col);
});
gM.append("line").attr("x1",0).attr("x2",AX).attr("y1",yM(0)).attr("y2",yM(0)).attr("stroke","#d0d0d0").attr("stroke-width",1.6);
const lm=d3.line().x(d=>x(d[0])).y(d=>yM(d[1])).curve(d3.curveMonotoneX);
gM.append("path").attr("d",lm(deaLine)).attr("stroke","#ffff66").attr("stroke-width",1.3).attr("fill","none");
gM.append("path").attr("d",lm(difLine)).attr("stroke","#f4f4f4").attr("stroke-width",1.3).attr("fill","none");
function arrow(g,d,up,col){
  const ax=x(d[0]),ay=yM(d[1]);
  const s=up?1:-1;
  g.append("line").attr("x1",ax).attr("x2",ax).attr("y1",ay+s*4).attr("y2",ay+s*13).attr("stroke",col).attr("stroke-width",2);
  g.append("path").attr("d",`M${ax},${ay} L${ax-4},${ay+s*6} L${ax+4},${ay+s*6} Z`).attr("fill",col);
}
sigDown.forEach(d=>arrow(gM,d,false,"#22d822"));
sigUp.forEach(d=>arrow(gM,d,true,"#ff2222"));
gM.append("line").attr("x1",x(4.9)).attr("x2",x(4.9)).attr("y1",yM(75)).attr("y2",yM(69)).attr("stroke",CYAN).attr("stroke-width",2);

segs([["CD(12,26,9,20,0,20)","#ececec",1,108],["DIF: 44.76","#ececec",113,168],["DEA: 46.88","#ffff50",173,235],
["MACD: -4.23","#e040e0",241,308],["均价: 2028.15","#2a90b4",313,388],["ZF: 0.31","#ff6a8a",393,435],
["DF: -0.07","#30d830",442,491],["CJ: -0.00","#e8e840",498,545],["L阳: 0.00","#c89ae8",551,600],
["L涨: 0.00","#c89ae8",605,653],["L阴: 1.00","#40d8e8",660,708],["L跌: 1.00","#40d8e8",714,761],
["Z连阳: 0.00","#ff2828",767,828],["Z连涨: 0.00","#ff2828",833,893],["Z连阴: 0.00","#30e030",899,959],
["Z连跌: 0.00","#30e030",965,1026],[": 0.00","#ececec",1030,1060]],1103.5,12.5);

// right-axis value box
svg.append("rect").attr("x",2192).attr("y",1228).attr("width",49).attr("height",16).attr("fill","#1c1ca8").attr("stroke","#4a4ad0");
svg.append("text").attr("x",2195).attr("y",1241).attr("fill","#e8e8ff").attr("font-size",12.5).text("1.7");

// ---- bottom date axis ----
const gX=svg.append("g");
monthIdx.forEach((m,k)=>{
  const tx=Math.round(x(m))+0.5;
  gX.append("line").attr("x1",tx).attr("x2",tx).attr("y1",1373).attr("y2",H).attr("stroke",AXC);
  if(monthLbl[k]) gX.append("text").attr("x",tx+2).attr("y",1380.3).attr("fill",LBL).attr("font-size",9.5).text(monthLbl[k]);
  if(k<monthIdx.length-1){
    const gap=monthIdx[k+1]-m, n=Math.max(1,Math.round(gap/5.3));
    for(let j=1;j<n;j++){const mx=Math.round(x(m+gap*j/n))+0.5;
      gX.append("line").attr("x1",mx).attr("x2",mx).attr("y1",1373).attr("y2",1378).attr("stroke",AXC);}
  }
});
svg.append("rect").attr("x",1432).attr("y",1374).attr("width",182).attr("height",9).attr("fill","#2626a6");
svg.append("text").attr("x",1434).attr("y",1382).attr("fill","#d8d8ff").attr("font-size",10.5)
  .attr("textLength",177).attr("lengthAdjust","spacingAndGlyphs").text("2026/04/14/二 90 至今涨幅4.39%");
svg.append("text").attr("x",2201).attr("y",1381.5).attr("fill","#c8c8c8").attr("font-size",10.5).text("日线");
</script>
</body></html>
